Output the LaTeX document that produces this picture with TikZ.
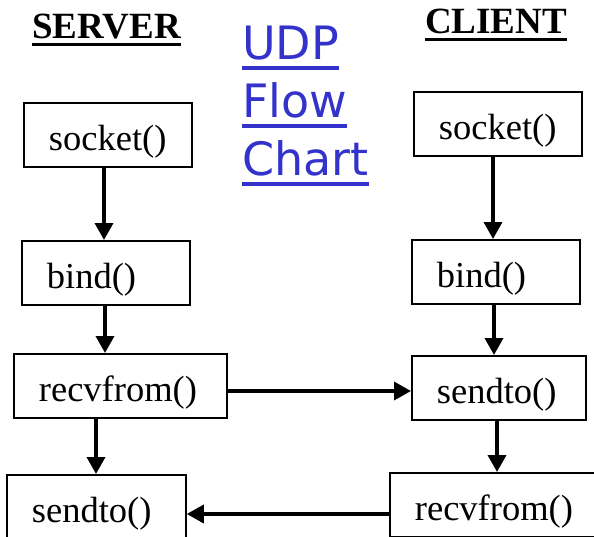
\documentclass[tikz,border=0pt]{standalone}
\usepackage{fontspec}
\setmainfont{Liberation Serif}
\newfontfamily\udpfont{DejaVu Sans}
\usetikzlibrary{arrows.meta}
\definecolor{udpblue}{RGB}{51,51,204}
\begin{document}
\begin{tikzpicture}[x=1pt,y=-1pt,
  box/.style={draw, line width=1.8pt, anchor=north west, inner xsep=25pt, inner ysep=8pt,
    text height=40pt, text depth=8pt, align=left, font=\fontsize{36.5}{40}\selectfont},
  arr/.style={line width=3.5pt, -{Triangle[length=17pt,width=18pt]}},
  head/.style={anchor=base west, inner sep=0pt, font=\fontsize{37}{40}\selectfont\bfseries},
  udp/.style={anchor=base west, inner sep=0pt, text=udpblue, font=\fontsize{46}{50}\selectfont\udpfont},
  hline/.style={line width=3pt},
  uline/.style={line width=3.5pt, draw=udpblue}]
\useasboundingbox (0,0) rectangle (594,536);
\clip (0,0) rectangle (594,536);

% headings
\node[head] (server) at (32,38) {SERVER};
\draw[hline] ([yshift=-6.5pt]server.base west) -- ([yshift=-6.5pt]server.base east);
\node[head] (client) at (425,33) {CLIENT};
\draw[hline] ([yshift=-6.5pt]client.base west) -- ([yshift=-6.5pt]client.base east);

% title
\node[udp] (t1) at (242,59) {UDP};
\node[udp] (t2) at (242,117) {Flow};
\node[udp] (t3) at (242,175) {Chart};
\draw[uline] ([yshift=-9pt]t1.base west) -- ([yshift=-9pt]t1.base east);
\draw[uline] ([yshift=-9pt]t2.base west) -- ([yshift=-9pt]t2.base east);
\draw[uline] ([yshift=-9pt]t3.base west) -- ([yshift=-9pt]t3.base east);

% server boxes
\node[box, text width=118pt] (ssock) at (23,102) {socket()};
\node[box, text width=118pt] (sbind) at (21,240) {bind()};
\node[box, text width=163pt] (srecv) at (13,353) {recvfrom()};
\node[box, text width=129pt] (ssend) at (6,474) {sendto()};

% client boxes
\node[box, text width=118pt] (csock) at (413,91) {socket()};
\node[box, text width=118pt] (cbind) at (411,239) {bind()};
\node[box, text width=124pt] (csend) at (411,355) {sendto()};
\node[box, text width=180pt] (crecv) at (389,472) {recvfrom()};

% arrows
\draw[arr] (ssock.south -| 104,0) -- (sbind.north -| 104,0);
\draw[arr] (sbind.south -| 105,0) -- (srecv.north -| 105,0);
\draw[arr] (srecv.south -| 96,0) -- (ssend.north -| 96,0);
\draw[arr] (csock.south -| 493,0) -- (cbind.north -| 493,0);
\draw[arr] (cbind.south -| 494,0) -- (csend.north -| 494,0);
\draw[arr] (csend.south -| 497,0) -- (crecv.north -| 497,0);
\draw[arr] (srecv.east |- 0,391) -- (csend.west |- 0,391);
\draw[arr] (crecv.west |- 0,514) -- (ssend.east |- 0,514);
\end{tikzpicture}
\end{document}
